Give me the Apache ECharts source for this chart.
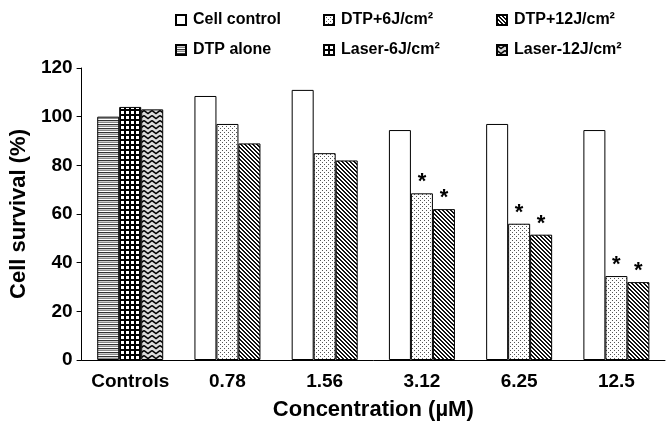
<!DOCTYPE html>
<html>
<head>
<meta charset="utf-8">
<script src="https://cdn.jsdelivr.net/npm/echarts@6/dist/echarts.min.js"></script>
<style>
html,body{margin:0;padding:0;background:#fff;}
#chart{width:670px;height:433px;}
</style>
</head>
<body>
<div id="chart"></div>
<script>
// ---- data ----
const categories = ['Controls', '0.78', '1.56', '3.12', '6.25', '12.5'];
const cellControl = ['-', 108.5, 111, 94.5, 97, 94.5];
const dtp6 = ['-', 97, 85, 68.5, 56, 34.5];
const dtp12 = ['-', 89, 82, 62, 51.5, 32];
const dtpAlone = [100, '-', '-', '-', '-', '-'];
const laser6 = [104, '-', '-', '-', '-', '-'];
const laser12 = [103, '-', '-', '-', '-', '-'];
const sigDtp6 = [false, false, false, true, true, true];
const sigDtp12 = [false, false, false, true, true, true];
const yTicks = { min: 0, max: 120, interval: 20 };

// ---- patterns ----
function pat(w, h, bg, draw) {
  const c = document.createElement('canvas');
  c.width = w; c.height = h;
  const ctx = c.getContext('2d');
  ctx.fillStyle = bg; ctx.fillRect(0, 0, w, h);
  draw(ctx);
  return { image: c, repeat: 'repeat' };
}
const patDots = pat(4, 4, '#fff', ctx => {
  ctx.fillStyle = '#555';
  ctx.fillRect(0, 0, 1, 1); ctx.fillRect(2, 2, 1, 1);
});
const patDiag = pat(4, 4, '#fff', ctx => {
  ctx.fillStyle = '#111';
  for (let i = 0; i < 4; i++) { ctx.fillRect(i, i, 1, 1); ctx.fillRect((i + 1) % 4, i, 1, 1); }
});
const patHoriz = pat(1, 4, '#fff', ctx => {
  ctx.fillStyle = '#333'; ctx.fillRect(0, 0, 1, 1);
  ctx.fillStyle = '#ccc'; ctx.fillRect(0, 1, 1, 1);
  ctx.fillStyle = '#888'; ctx.fillRect(0, 2, 1, 1);
});
const patGrid = pat(5, 5, '#000', ctx => {
  ctx.fillStyle = '#fff'; ctx.fillRect(1, 1, 3, 3);
});
const patZig = pat(8, 5, '#ddd', ctx => {
  ctx.strokeStyle = '#000'; ctx.lineWidth = 1.5;
  ctx.beginPath(); ctx.moveTo(0, 0.5); ctx.lineTo(4, 3.5); ctx.lineTo(8, 0.5); ctx.stroke();
  ctx.beginPath(); ctx.moveTo(0, 5.5); ctx.lineTo(4, 8.5); ctx.lineTo(8, 5.5); ctx.stroke();
  ctx.beginPath(); ctx.moveTo(0, -4.5); ctx.lineTo(4, -1.5); ctx.lineTo(8, -4.5); ctx.stroke();
});

const FONT = 'Liberation Sans, Arial, sans-serif';

function withStars(values, sig) {
  return values.map((v, i) => sig[i] ? {
    value: v,
    label: { show: true, position: 'top', formatter: '*', fontSize: 22, fontWeight: 'bold', color: '#000', distance: 0, fontFamily: FONT }
  } : v);
}

function bar(name, stack, data, color) {
  return {
    name: name, type: 'bar', stack: stack, data: data,
    barWidth: 22, barGap: '0%',
    itemStyle: { color: color, borderColor: '#000', borderWidth: 1 },
    emphasis: { disabled: true }
  };
}

const legendCommon = {
  orient: 'vertical', top: 12, padding: 0, itemWidth: 10, itemHeight: 10, itemGap: 14,
  icon: 'rect',
  textStyle: { fontSize: 16, fontWeight: 'bold', color: '#000', fontFamily: FONT, padding: [0, 0, 0, 2] },
  selectedMode: false
};

const chart = echarts.init(document.getElementById('chart'), null, { renderer: 'canvas' });
chart.setOption({
  animation: false,
  backgroundColor: '#fff',
  textStyle: { fontFamily: FONT },
  grid: { left: 79, right: 5, top: 68, bottom: 73 },
  legend: [
    Object.assign({}, legendCommon, { left: 175, data: ['Cell control', 'DTP alone'] }),
    Object.assign({}, legendCommon, { left: 323, data: ['DTP+6J/cm²', 'Laser-6J/cm²'] }),
    Object.assign({}, legendCommon, { left: 496, data: ['DTP+12J/cm²', 'Laser-12J/cm²'] })
  ],
  xAxis: {
    type: 'category', data: categories,
    name: 'Concentration (µM)', nameLocation: 'middle', nameGap: 39,
    nameTextStyle: { fontSize: 22, fontWeight: 'bold', color: '#000', fontFamily: FONT },
    axisLine: { lineStyle: { color: '#000', width: 1 } },
    axisTick: { inside: true, length: 6, lineStyle: { color: '#000' } },
    axisLabel: { interval: 0, fontSize: 19, fontWeight: 'bold', color: '#000', margin: 12, fontFamily: FONT }
  },
  yAxis: {
    type: 'value', min: yTicks.min, max: yTicks.max, interval: yTicks.interval,
    name: 'Cell survival (%)', nameLocation: 'middle', nameGap: 50,
    nameTextStyle: { fontSize: 22, fontWeight: 'bold', color: '#000', fontFamily: FONT },
    axisLine: { show: true, lineStyle: { color: '#000', width: 1 } },
    axisTick: { show: true, length: 5, lineStyle: { color: '#000' } },
    axisLabel: { fontSize: 19, fontWeight: 'bold', color: '#000', margin: 9, fontFamily: FONT },
    splitLine: { show: false }
  },
  series: [
    bar('Cell control', 's1', cellControl, '#fff'),
    bar('DTP+6J/cm²', 's2', withStars(dtp6, sigDtp6), patDots),
    bar('DTP+12J/cm²', 's3', withStars(dtp12, sigDtp12), patDiag),
    bar('DTP alone', 's1', dtpAlone, patHoriz),
    bar('Laser-6J/cm²', 's2', laser6, patGrid),
    bar('Laser-12J/cm²', 's3', laser12, patZig)
  ]
});
</script>
</body>
</html>
